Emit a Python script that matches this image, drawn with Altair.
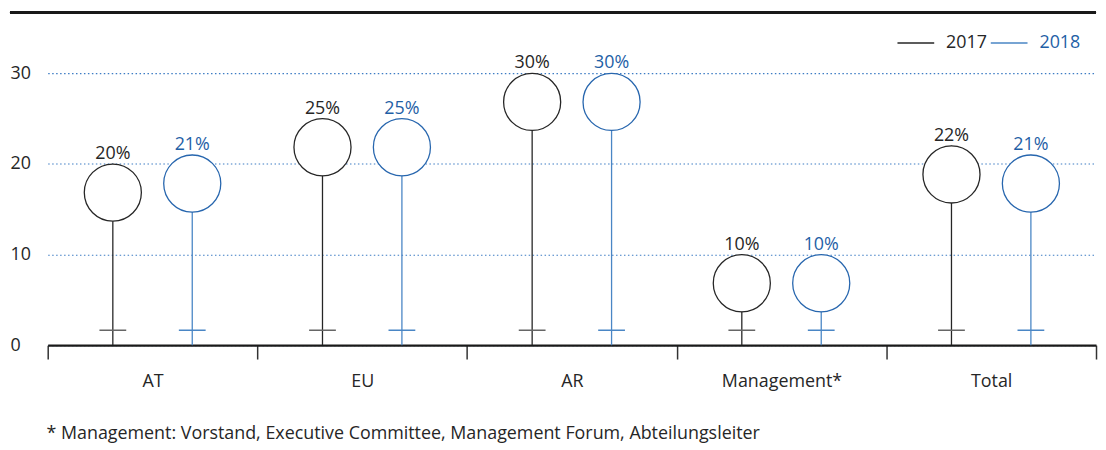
import altair as alt
import pandas as pd

categories = ["AT", "EU", "AR", "Management*", "Total"]
years = ["2017", "2018"]
values_2017 = [20, 25, 30, 10, 22]
values_2018 = [21, 25, 30, 10, 21]
footnote = "* Management: Vorstand, Executive Committee, Management Forum, Abteilungsleiter"

rows = []
for c, a, b in zip(categories, values_2017, values_2018):
    rows.append({"cat": c, "year": "2017", "value": a, "label": f"{a}%"})
    rows.append({"cat": c, "year": "2018", "value": b, "label": f"{b}%"})
df = pd.DataFrame(rows)

FONT = "Open Sans"
FS = 18
W, H = 1056, 335
BLACK = "#262626"
BLUE = "#1f5fa6"

x_enc = alt.X(
    "cat:N", sort=categories,
    scale=alt.Scale(paddingInner=0, paddingOuter=0),
    axis=alt.Axis(title=None, tickBand="extent", tickSize=14, tickColor="#333333",
                  tickWidth=1.5, domainColor="#1a1a1a", domainWidth=2.5, labelAngle=0,
                  labelFontSize=FS, labelFont=FONT, labelPadding=14, labelColor=BLACK,
                  grid=False),
)
xo_enc = alt.XOffset("year:N", sort=years, scale=alt.Scale(paddingInner=0, paddingOuter=0.32))
y_scale = alt.Scale(domain=[0, 36.68], nice=False, zero=True)
y_enc = alt.Y(
    "value:Q", scale=y_scale,
    axis=alt.Axis(values=[0, 10, 20, 30], domain=False, ticks=False, labelAlign="left",
                  labelPadding=38, labelFontSize=FS, labelFont=FONT, labelColor=BLACK,
                  gridColor="#3d7cc4", gridDash=[1.5, 2.5], gridWidth=1.1, title=None),
)

base = alt.Chart(df)

stems = base.mark_rule(strokeWidth=1.3).encode(
    x=x_enc, xOffset=xo_enc, y=y_enc, y2=alt.datum(0),
    color=alt.Color("year:N", scale=alt.Scale(domain=years, range=[BLACK, "#4a86c5"]),
                    legend=alt.Legend(title=None, orient="none", legendX=855, legendY=11,
                                      direction="horizontal", symbolType="stroke",
                                      symbolSize=1369, symbolStrokeWidth=1.5,
                                      labelFontSize=FS, labelFont=FONT, labelOffset=11,
                                      columnPadding=0,
                                      labelColor={"expr": "datum.label == '2018' ? '#1f5fa6' : '#262626'"})),
)

cross = base.mark_tick(yOffset=-15, size=27, thickness=1.5, opacity=1).encode(
    x=x_enc, xOffset=xo_enc, y=alt.datum(0),
    color=alt.Color("year:N", scale=alt.Scale(domain=years, range=["#666666", "#4a86c5"]), legend=None),
)

circles = base.mark_point(shape="circle", size=3306, fill="white", fillOpacity=1,
                          strokeWidth=1.3, opacity=1, yOffset=29).encode(
    x=x_enc, xOffset=xo_enc, y=y_enc,
    stroke=alt.Stroke("year:N", scale=alt.Scale(domain=years, range=[BLACK, "#2766ae"]), legend=None),
)

labels = base.mark_text(baseline="alphabetic", dy=-5, fontSize=FS, font=FONT).encode(
    x=x_enc, xOffset=xo_enc, y=y_enc, text="label:N",
    color=alt.Color("year:N", scale=alt.Scale(domain=years, range=[BLACK, BLUE]), legend=None),
)

top_rule = base.mark_rule(strokeWidth=2.5, color="#1a1a1a").encode(
    x=alt.value(-38), x2=alt.value(W), y=alt.value(0)
)

chart = alt.layer(stems, cross, circles, labels, top_rule).resolve_scale(
    color="independent"
).properties(
    width=W, height=H,
    padding={"left": 0, "top": 1, "right": 0, "bottom": 0},
    title=alt.TitleParams(footnote, orient="bottom", anchor="start", fontSize=FS,
                          font=FONT, fontWeight="normal", color=BLACK, offset=35, dx=38),
).configure_view(stroke=None)

chart.save("out.html", embed_options={"renderer": "svg", "actions": False})
